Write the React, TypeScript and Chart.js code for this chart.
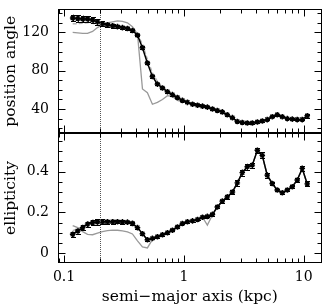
import React, { useEffect, useRef } from "react";
import { Chart, registerables } from "chart.js";
Chart.register(...registerables);

// semi-major axis (kpc)
const radius = [0.118, 0.130, 0.143, 0.157, 0.173, 0.190, 0.209, 0.230, 0.254, 0.279, 0.307, 0.338, 0.372, 0.410, 0.451, 0.496, 0.546, 0.601, 0.662, 0.729, 0.802, 0.883, 0.972, 1.07, 1.18, 1.30, 1.43, 1.57, 1.73, 1.90, 2.09, 2.30, 2.54, 2.79, 3.07, 3.38, 3.72, 4.10, 4.51, 4.96, 5.46, 6.01, 6.62, 7.29, 8.02, 8.83, 9.72, 10.7];

// position angle
const paObs = [135, 134.5, 134, 134, 133, 131, 129, 128, 127, 126, 125, 124, 122, 117, 104, 88, 74, 66, 62, 58, 55, 52, 49, 47, 45, 44, 43, 42, 40, 38.5, 37, 34, 31, 27, 26, 25.5, 25.5, 26.5, 27.5, 29, 32, 34, 32, 30, 29.5, 29, 29, 33];
const paErr = [3.5, 3.5, 3.5, 3, 3, 3, 2.5, 2, 2, 1.5, 1.5, 1.2, 1.2, 1.2, 1.5, 1.5, 1.2, 1, 1, 1, 1, 0.8, 0.8, 0.8, 0.8, 0.8, 0.8, 0.8, 0.8, 0.8, 0.8, 0.8, 0.8, 0.8, 0.8, 0.8, 0.8, 0.8, 0.8, 0.8, 0.8, 0.8, 0.8, 0.8, 0.8, 0.8, 0.8, 2];
const paModelA = [120, 119.5, 119, 119, 121, 125, 128, 130, 131, 132, 131.5, 130, 126, 118, 61, 57, 45, 47, 50, 54, 53, 49, 47.5, 46.5, 44.5, 43.5, 42.5, 41.5, 39.5, 38, 36.5, 33.5, 30.5, 27, 26, 25.5, 25.5, 26.5, 27.5, 29, 32, 33.5, 32, 30, 29.5, 29, 29, 32.5];
const paModelB = [129, 129, 129.5, 130, 129.5, 128, 126.5, 125.5, 125, 124.5, 124, 123, 121.5, 118, 108, 92, 78, 69, 63, 59, 55.5, 52, 49, 47, 45, 44, 43, 42, 40, 38.5, 37, 34, 31, 27, 26, 25.5, 25.5, 26.5, 27.5, 29, 32, 34, 32, 30, 29.5, 29, 29, 33];

// ellipticity
const ellObs = [0.092, 0.108, 0.125, 0.142, 0.150, 0.153, 0.154, 0.154, 0.154, 0.154, 0.153, 0.152, 0.146, 0.125, 0.095, 0.065, 0.072, 0.080, 0.090, 0.100, 0.112, 0.128, 0.145, 0.154, 0.158, 0.165, 0.176, 0.180, 0.190, 0.226, 0.255, 0.276, 0.300, 0.345, 0.395, 0.424, 0.432, 0.505, 0.480, 0.383, 0.342, 0.310, 0.296, 0.310, 0.326, 0.359, 0.416, 0.340];
const ellErr = [0.012, 0.012, 0.012, 0.012, 0.013, 0.013, 0.012, 0.010, 0.010, 0.008, 0.008, 0.006, 0.006, 0.005, 0.005, 0.005, 0.004, 0.004, 0.004, 0.004, 0.004, 0.004, 0.004, 0.004, 0.004, 0.005, 0.005, 0.005, 0.006, 0.006, 0.007, 0.008, 0.010, 0.015, 0.015, 0.015, 0.012, 0.012, 0.015, 0.012, 0.008, 0.006, 0.006, 0.006, 0.008, 0.010, 0.012, 0.012];
const ellModelA = [0.135, 0.125, 0.105, 0.092, 0.090, 0.098, 0.105, 0.110, 0.113, 0.112, 0.109, 0.104, 0.094, 0.060, 0.030, 0.025, 0.066, 0.078, 0.089, 0.099, 0.111, 0.127, 0.144, 0.153, 0.157, 0.164, 0.176, 0.137, 0.187, 0.224, 0.253, 0.274, 0.298, 0.343, 0.393, 0.422, 0.430, 0.502, 0.478, 0.381, 0.340, 0.308, 0.294, 0.308, 0.324, 0.357, 0.413, 0.338];
const ellModelB = [0.110, 0.120, 0.130, 0.138, 0.142, 0.145, 0.146, 0.146, 0.146, 0.146, 0.145, 0.144, 0.140, 0.120, 0.090, 0.070, 0.072, 0.080, 0.090, 0.100, 0.112, 0.128, 0.145, 0.154, 0.158, 0.165, 0.176, 0.180, 0.190, 0.226, 0.255, 0.276, 0.300, 0.345, 0.395, 0.424, 0.432, 0.505, 0.480, 0.383, 0.342, 0.310, 0.296, 0.310, 0.326, 0.359, 0.416, 0.340];

// ticks
const xTickValues = [0.1, 1, 10];
const xTickLabels = ["0.1", "1", "10"];
const paTickValues = [40, 80, 120];
const paTickLabels = ["40", "80", "120"];
const ellTickValues = [0, 0.2, 0.4];
const ellTickLabels = ["0", "0.2", "0.4"];
const markerRadius = 0.2;

const X_MIN = 0.089;
const X_MAX = 14.1;
const FONT = "'DejaVu Serif', serif";

const axesPlugin = {
  id: "frameTicks",
  afterDraw(chart: any, _args: any, opts: any) {
    const { ctx, chartArea } = chart;
    const { left, right, top, bottom } = chartArea;
    const xs = chart.scales.x;
    const ys = chart.scales.y;
    ctx.save();
    // dotted marker line
    const xd = Math.round(xs.getPixelForValue(markerRadius)) + 0.5;
    ctx.strokeStyle = "#555";
    ctx.lineWidth = 1;
    ctx.setLineDash([1, 1]);
    ctx.beginPath();
    ctx.moveTo(xd, Math.round(top));
    ctx.lineTo(xd, Math.round(bottom));
    ctx.stroke();
    ctx.setLineDash([]);

    ctx.strokeStyle = "#000";
    ctx.lineWidth = 1;
    const L = Math.round(left) + 0.5;
    const R = Math.round(right) - 0.5;
    const T = Math.round(top) + 0.5;
    const B = Math.round(bottom) - 0.5;
    ctx.strokeRect(L, T, R - L, B - T);
    ctx.beginPath();
    // x ticks (log)
    for (let d = 0.01; d <= 100; d *= 10) {
      for (let k = 1; k <= 9; k++) {
        const v = k * d;
        if (v < X_MIN || v > X_MAX) continue;
        const px = Math.round(xs.getPixelForValue(v)) + 0.5;
        const len = k === 1 ? 7 : 4;
        ctx.moveTo(px, B);
        ctx.lineTo(px, B - len);
        ctx.moveTo(px, T);
        ctx.lineTo(px, T + len);
      }
    }
    // y ticks
    const step = opts.minorStep;
    const start = Math.ceil(ys.min / step - 1e-9);
    for (let i = start; i * step <= ys.max + 1e-9; i++) {
      const v = i * step;
      const isMajor = opts.majors.some((m: number) => Math.abs(m - v) < step / 10);
      const len = isMajor ? 7 : 4;
      const py = Math.round(ys.getPixelForValue(v)) + 0.5;
      ctx.moveTo(L, py);
      ctx.lineTo(L + len, py);
      ctx.moveTo(R, py);
      ctx.lineTo(R - len, py);
    }
    ctx.stroke();
    ctx.restore();
  },
  afterDatasetsDraw(chart: any) {
    const { ctx } = chart;
    const ys = chart.scales.y;
    chart.data.datasets.forEach((ds: any, di: number) => {
      if (!ds.errors) return;
      const meta = chart.getDatasetMeta(di);
      ctx.save();
      ctx.strokeStyle = "#000";
      ctx.lineWidth = 1;
      ctx.beginPath();
      meta.data.forEach((el: any, i: number) => {
        const y = ds.data[i].y;
        const e = ds.errors[i];
        const y1 = ys.getPixelForValue(y - e);
        const y2 = ys.getPixelForValue(y + e);
        const x = Math.round(el.x) + 0.5;
        ctx.moveTo(x, y1);
        ctx.lineTo(x, y2);
        ctx.moveTo(x - 2.5, Math.round(y1) + 0.5);
        ctx.lineTo(x + 2.5, Math.round(y1) + 0.5);
        ctx.moveTo(x - 2.5, Math.round(y2) + 0.5);
        ctx.lineTo(x + 2.5, Math.round(y2) + 0.5);
      });
      ctx.stroke();
      ctx.restore();
    });
  },
};

function makeDatasets(obs: number[], err: number[], mA: number[], mB: number[]) {
  return [
    {
      data: radius.map((r, i) => ({ x: r, y: obs[i] })),
      errors: err,
      borderColor: "#000",
      borderWidth: 1.5,
      pointStyle: "star",
      pointRadius: 2.8,
      pointBorderColor: "#000",
      pointBackgroundColor: "#000",
      pointBorderWidth: 1.4,
      tension: 0,
    },
    {
      data: radius.map((r, i) => ({ x: r, y: mA[i] })),
      borderColor: "#999999",
      borderWidth: 1.3,
      pointRadius: 0,
      tension: 0,
    },
    {
      data: radius.map((r, i) => ({ x: r, y: mB[i] })),
      borderColor: "#b4b4b4",
      borderWidth: 1.3,
      borderDash: [4, 2],
      pointRadius: 0,
      tension: 0,
    },
  ];
}

export default function App() {
  const topRef = useRef<HTMLCanvasElement>(null);
  const botRef = useRef<HTMLCanvasElement>(null);

  useEffect(() => {
    const tickFont = { family: FONT, size: 14 };
    const titleFont = { family: FONT, size: 15.5, lineHeight: 1 };
    const top = new Chart(topRef.current!, {
      type: "line",
      data: { datasets: makeDatasets(paObs, paErr, paModelA, paModelB) as any },
      plugins: [axesPlugin as any],
      options: {
        animation: false,
        responsive: false,
        events: [],
        layout: { padding: { left: 0, right: 4, top: 4, bottom: 172 } },
        plugins: {
          legend: { display: false },
          tooltip: { enabled: false },
          frameTicks: { minorStep: 10, majors: paTickValues },
        } as any,
        scales: {
          x: { type: "logarithmic", min: X_MIN, max: X_MAX, display: false },
          y: {
            min: 15,
            max: 144,
            afterFit: (s: any) => { s.width = 58; },
            afterBuildTicks: (s: any) => { s.ticks = paTickValues.map((v) => ({ value: v })); },
            ticks: { callback: (_v: any, i: number) => paTickLabels[i], font: tickFont, color: "#000", padding: 1, autoSkip: false },
            grid: { display: false },
            border: { display: false },
            title: { display: true, text: "position angle", font: titleFont, color: "#000", padding: { top: 3, bottom: 0 } },
          },
        },
      } as any,
    });
    const bot = new Chart(botRef.current!, {
      type: "line",
      data: { datasets: makeDatasets(ellObs, ellErr, ellModelA, ellModelB) as any },
      plugins: [axesPlugin as any],
      options: {
        animation: false,
        responsive: false,
        events: [],
        layout: { padding: { left: 0, right: 4, top: 133, bottom: 0 } },
        plugins: {
          legend: { display: false },
          tooltip: { enabled: false },
          frameTicks: { minorStep: 0.05, majors: ellTickValues },
        } as any,
        scales: {
          x: {
            type: "logarithmic",
            min: X_MIN,
            max: X_MAX,
            afterFit: (s: any) => { s.height = 42; },
            afterBuildTicks: (s: any) => { s.ticks = xTickValues.map((v) => ({ value: v })); },
            ticks: { callback: (_v: any, i: number) => xTickLabels[i], font: tickFont, color: "#000", padding: 6, autoSkip: false, maxRotation: 0 },
            grid: { display: false, drawTicks: false },
            border: { display: false },
            title: { display: true, text: "semi\u2212major axis (kpc)", font: titleFont, color: "#000", padding: { top: 0, bottom: 0 } },
          },
          y: {
            min: -0.049,
            max: 0.59,
            afterFit: (s: any) => { s.width = 58; },
            afterBuildTicks: (s: any) => { s.ticks = ellTickValues.map((v) => ({ value: v })); },
            ticks: { callback: (_v: any, i: number) => ellTickLabels[i], font: tickFont, color: "#000", padding: 1, autoSkip: false },
            grid: { display: false },
            border: { display: false },
            title: { display: true, text: "ellipticity", font: titleFont, color: "#000", padding: { top: 3, bottom: 0 } },
          },
        },
      } as any,
    });
    return () => {
      top.destroy();
      bot.destroy();
    };
  }, []);

  return (
    <div style={{ position: "absolute", left: 0, top: 0, width: 327, height: 305, background: "#fff" }}>
      <canvas ref={botRef} width={327} height={305} style={{ position: "absolute", left: 0, top: 0 }} />
      <canvas ref={topRef} width={327} height={305} style={{ position: "absolute", left: 0, top: 0 }} />
    </div>
  );
}
